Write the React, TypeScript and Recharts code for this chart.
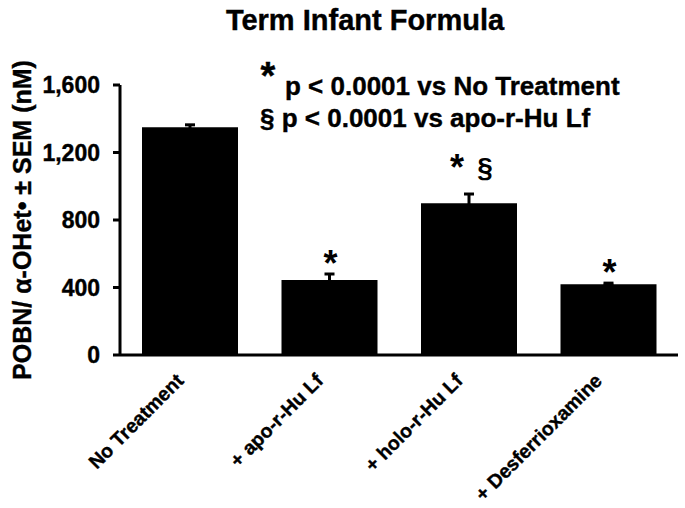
import { Bar, BarChart, Customized, ErrorBar, LabelList, XAxis, YAxis } from 'recharts';

const categories = ['No Treatment', '+ apo-r-Hu Lf', '+ holo-r-Hu Lf', '+ Desferrioxamine'];
const means = [1350, 444, 900, 420];
const sems = [14, 36, 54, 6];
const starMarks = ['', '*', '*', '*'];
const sectionMarks = ['', '', '§', ''];
const yTicks = [0, 400, 800, 1200, 1600];

const data = categories.map((name, i) => ({
    name,
    mean: means[i],
    sem: sems[i],
    star: starMarks[i],
    section: sectionMarks[i],
}));

const FONT = '"Liberation Sans", Arial, Helvetica, sans-serif';

const XTick = ({ x, y, payload }: any) => (
    <g transform={`translate(${x - 5},${y + 27})`}>
        <text textAnchor="end" transform="rotate(-45)" fontFamily={FONT} fontWeight="bold" fontSize={19.5}
            fill="#000" stroke="#000" strokeWidth={0.4}>
            {payload.value}
        </text>
    </g>
);

// stars / section marks above the error bars
const MarkLabel = ({ x, y, width, height, index }: any) => {
    const row = data[index];
    if (!row || !row.star) return null;
    const cx = x + width / 2;
    const errTop = y - row.sem * (height / row.mean);
    if (row.section) {
        return (
            <g fontFamily={FONT} fontWeight="bold" fill="#000">
                <text x={cx - 12} y={errTop - 14} textAnchor="middle" fontSize={36}>{row.star}</text>
                <text x={cx + 16} y={errTop - 17} textAnchor="middle" fontSize={28}>{row.section}</text>
            </g>
        );
    }
    return (
        <text x={cx + 1} y={errTop + 2} textAnchor="middle" fontFamily={FONT} fontWeight="bold" fontSize={36} fill="#000">
            {row.star}
        </text>
    );
};

const Annotations = () => (
    <g fontFamily={FONT} fontWeight="bold" fill="#000" stroke="#000" strokeWidth={0.4}>
        <text x={365} y={30} textAnchor="middle" fontSize={29}>Term Infant Formula</text>
        <text x={268} y={89} textAnchor="middle" fontSize={38}>*</text>
        <text x={285} y={95} fontSize={26}>p &lt; 0.0001 vs No Treatment</text>
        <text x={260} y={127} fontSize={26}>§ p &lt; 0.0001 vs apo-r-Hu Lf</text>
        <text x={31} y={220} textAnchor="middle" fontSize={25} transform="rotate(-90, 31, 220)">
            POBN/ α-OHet• ± SEM (nM)
        </text>
    </g>
);

export default function App() {
    return (
        <div style={{ position: 'absolute', left: 0, top: 0, width: 685, height: 508, background: '#fff' }}>
            <BarChart width={685} height={508} data={data} margin={{ top: 85, right: 7, bottom: 0, left: 0 }} barCategoryGap={22}>
                <XAxis
                    dataKey="name"
                    height={153}
                    tickLine={false}
                    tickSize={0}
                    tickMargin={0}
                    interval={0}
                    axisLine={{ stroke: '#000', strokeWidth: 3 }}
                    tick={<XTick />}
                />
                <YAxis
                    width={120}
                    domain={[0, 1600]}
                    ticks={yTicks}
                    allowDataOverflow
                    tickSize={7}
                    tickMargin={13}
                    tickFormatter={(v: number) => v.toLocaleString('en-US')}
                    axisLine={{ stroke: '#000', strokeWidth: 3 }}
                    tickLine={{ stroke: '#000', strokeWidth: 3 }}
                    tick={{ fill: '#000', stroke: '#000', strokeWidth: 0.4, fontSize: 23, fontWeight: 'bold', fontFamily: FONT }}
                />
                <Bar dataKey="mean" fill="#000" isAnimationActive={false}>
                    <ErrorBar dataKey="sem" width={5} stroke="#000" strokeWidth={3} direction="y" />
                    <LabelList dataKey="star" content={<MarkLabel />} />
                </Bar>
                <Customized component={Annotations} />
            </BarChart>
        </div>
    );
}
